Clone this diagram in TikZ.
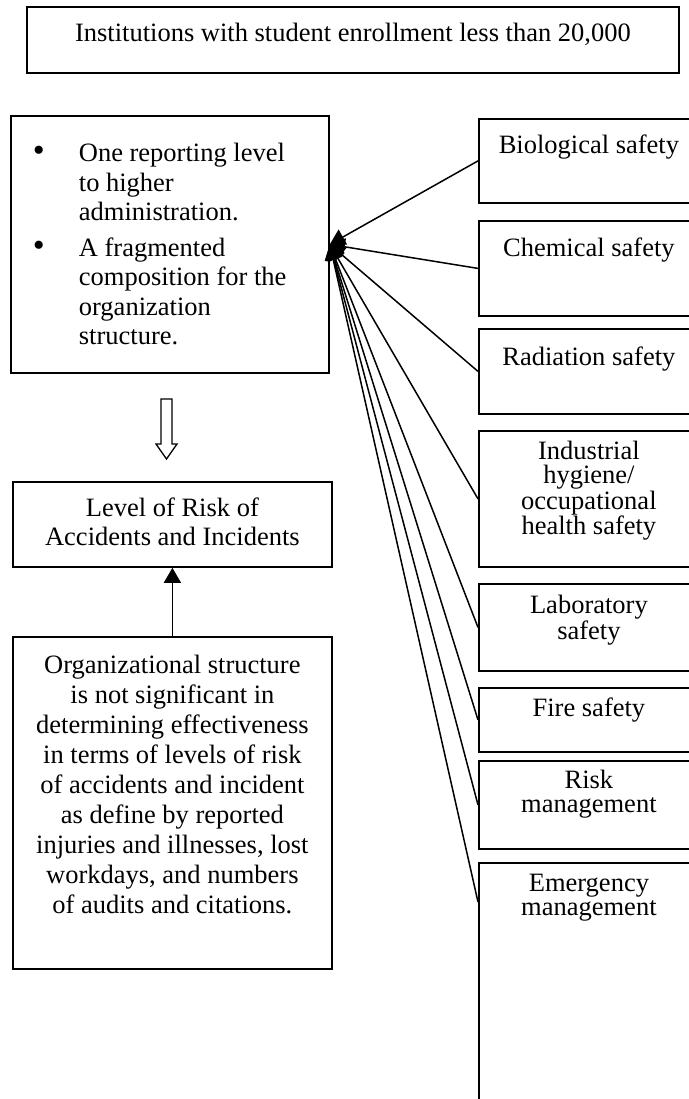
\documentclass[tikz,border=0pt]{standalone}
\usepackage{fontspec}
\setmainfont{Liberation Serif}
\usetikzlibrary{arrows.meta}

% fixed-height strut for the first line of each box
\newcommand{\tstrut}{\rule{0pt}{21pt}}
% box body: width, height, top padding, baselineskip, text
\newcommand{\boxbody}[5]{%
  \begin{minipage}[c][#2][t]{#1}\centering
    \fontsize{26.5}{#4}\selectfont
    \vspace*{#3}\tstrut#5%
  \end{minipage}}
\newcommand{\bulletmark}{{\fontsize{34}{29.5}\selectfont\textbullet}}

\begin{document}
\begin{tikzpicture}[x=1pt,y=-1pt,
  framebox/.style={draw=black,line width=1.8pt,inner sep=0pt,anchor=north west},
  spoke/.style={line width=1.5pt,-{Triangle[length=15pt,width=17pt]}},
  hollowarrow/.style={draw=black,line width=1.3pt,fill=white,line join=miter}]
\useasboundingbox (0,0) rectangle (688,1099);

% title
\node[framebox] (top) at (26,6)
  {\boxbody{652pt}{66pt}{14pt}{30pt}{Institutions with student enrollment less than 20,000}};

% summary of the structure
\node[framebox] (bul) at (10,115) {%
  \begin{minipage}[c][257pt][t]{318pt}\raggedright
    \fontsize{26.5}{29.5}\selectfont
    \vspace*{25pt}%
    \hspace*{22pt}\makebox[46pt][l]{\bulletmark}\tstrut One reporting level\\
    \hspace*{68pt}to higher\\
    \hspace*{68pt}administration.\par\vspace{6pt}
    \hspace*{22pt}\makebox[46pt][l]{\bulletmark}A fragmented\\
    \hspace*{68pt}composition for the\\
    \hspace*{68pt}organization\\
    \hspace*{68pt}structure.\par
  \end{minipage}};

% outcome boxes
\node[framebox] (lvl) at (12,481)
  {\boxbody{319pt}{85pt}{14pt}{29pt}{Level of Risk of\\Accidents and Incidents}};
\node[framebox] (org) at (12,636)
  {\boxbody{319pt}{332pt}{16pt}{30pt}{Organizational structure\\is not significant in\\determining effectiveness\\in terms of levels of risk\\of accidents and incident\\as define by reported\\injuries and illnesses, lost\\workdays, and numbers\\of audits and citations.}};

% safety functions
\node[framebox] (bio) at (478,118) {\boxbody{220pt}{84pt}{14pt}{24pt}{Biological safety}};
\node[framebox] (chem) at (478,220) {\boxbody{220pt}{95pt}{15pt}{24pt}{Chemical safety}};
\node[framebox] (rad) at (478,328) {\boxbody{220pt}{85pt}{16pt}{24pt}{Radiation safety}};
\node[framebox] (ind) at (478,430) {\boxbody{220pt}{136pt}{8pt}{24pt}{Industrial\\hygiene/\\occupational\\health safety}};
\node[framebox] (lab) at (478,583) {\boxbody{220pt}{87pt}{9pt}{24pt}{Laboratory\\safety}};
\node[framebox] (fire) at (478,687) {\boxbody{220pt}{64pt}{8pt}{24pt}{Fire safety}};
\node[framebox] (risk) at (478,760) {\boxbody{220pt}{88pt}{7pt}{24pt}{Risk\\management}};
\node[framebox] (emer) at (478,862) {\boxbody{220pt}{248pt}{8pt}{24pt}{Emergency\\management}};

% every function feeds the structure box
\foreach \b in {bio,chem,rad,ind,lab,fire,risk}
  \draw[spoke] (\b.west) -- (bul.east);
\draw[spoke] ([yshift=-40pt]emer.north west) -- (bul.east);

% structure leads to risk level
\draw[hollowarrow] (161,399) -- (172,399) -- (172,444) -- (177,444)
  -- (166.5,459) -- (156,444) -- (161,444) -- cycle;

% finding supports the risk level
\draw[spoke] (org.north) -- (lvl.south);
\end{tikzpicture}
\end{document}
